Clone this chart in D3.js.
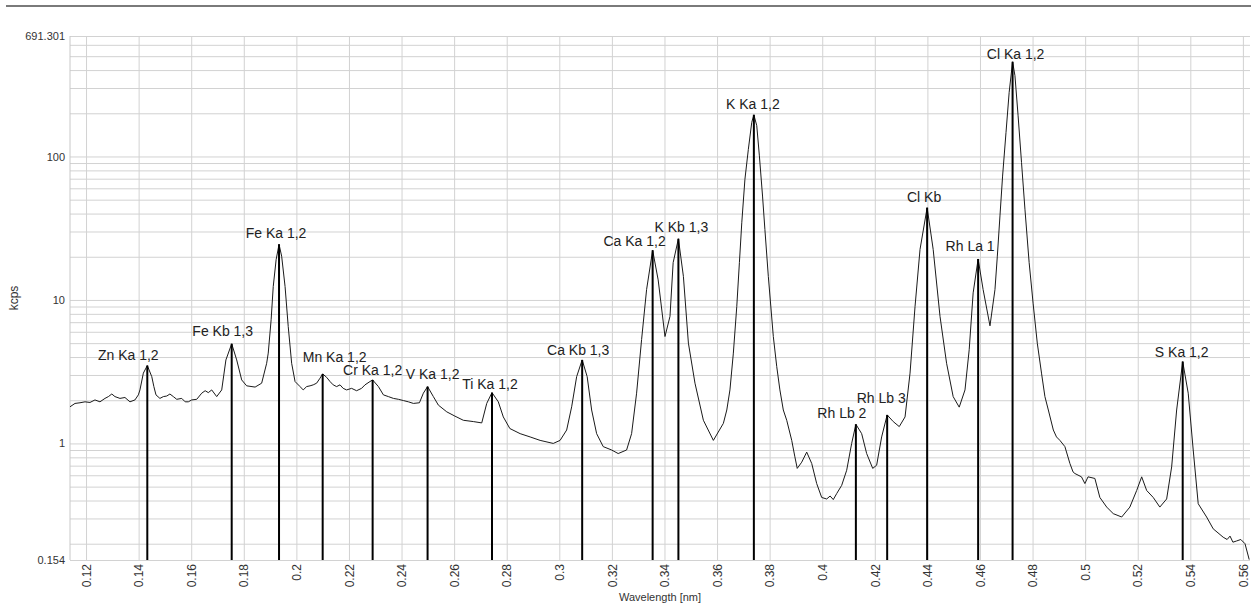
<!DOCTYPE html>
<html><head><meta charset="utf-8">
<script src="https://cdn.jsdelivr.net/npm/d3@7"></script>
<style>
html,body{margin:0;padding:0;background:#fff;}
svg{display:block;font-family:"Liberation Sans",Arial,sans-serif;}
</style></head><body>
<svg id="chart" width="1251" height="604"></svg>
<script>
// ---- data ----
const wavelength = [
0.1139,0.1158,0.1177,0.1196,0.1215,0.1234,0.1253,0.1272,0.1285,0.1298,
0.1310,0.1329,0.1348,0.1367,0.1386,0.1399,0.1405,0.1418,0.1433,0.1450,
0.1458,0.1466,0.1481,0.1494,0.1507,0.1519,0.1532,0.1545,0.1564,0.1577,
0.1589,0.1602,0.1621,0.1640,0.1653,0.1665,0.1678,0.1697,0.1716,0.1732,
0.1754,0.1773,0.1792,0.1811,0.1843,0.1868,0.1887,0.1893,0.1904,0.1912,
0.1923,0.1934,0.1944,0.1957,0.1969,0.1982,0.1995,0.2014,0.2026,0.2039,
0.2052,0.2064,0.2077,0.2090,0.2100,0.2115,0.2128,0.2140,0.2153,0.2166,
0.2178,0.2191,0.2210,0.2229,0.2248,0.2261,0.2280,0.2290,0.2312,0.2331,
0.2350,0.2369,0.2388,0.2407,0.2426,0.2445,0.2468,0.2483,0.2499,0.2521,
0.2540,0.2572,0.2603,0.2635,0.2673,0.2705,0.2724,0.2744,0.2768,0.2787,
0.2812,0.2851,0.2889,0.2927,0.2977,0.3003,0.3028,0.3047,0.3066,0.3087,
0.3106,0.3123,0.3142,0.3167,0.3199,0.3224,0.3256,0.3275,0.3294,0.3313,
0.3332,0.3355,0.3376,0.3402,0.3421,0.3433,0.3453,0.3472,0.3491,0.3516,
0.3548,0.3586,0.3624,0.3637,0.3649,0.3662,0.3675,0.3685,0.3694,0.3706,
0.3719,0.3732,0.3740,0.3751,0.3761,0.3773,0.3782,0.3795,0.3814,0.3827,
0.3839,0.3852,0.3865,0.3884,0.3896,0.3905,0.3922,0.3941,0.3960,0.3979,
0.3998,0.4017,0.4030,0.4042,0.4055,0.4074,0.4093,0.4112,0.4128,0.4150,
0.4169,0.4192,0.4207,0.4226,0.4247,0.4270,0.4293,0.4315,0.4334,0.4353,
0.4372,0.4399,0.4422,0.4448,0.4473,0.4498,0.4521,0.4543,0.4559,0.4574,
0.4593,0.4612,0.4638,0.4657,0.4666,0.4676,0.4686,0.4699,0.4711,0.4724,
0.4733,0.4745,0.4758,0.4771,0.4787,0.4802,0.4818,0.4834,0.4847,0.4860,
0.4879,0.4891,0.4904,0.4923,0.4942,0.4954,0.4961,0.4986,0.4999,0.5011,
0.5037,0.5056,0.5082,0.5107,0.5139,0.5170,0.5196,0.5215,0.5234,0.5259,
0.5284,0.5310,0.5329,0.5348,0.5371,0.5392,0.5411,0.5430,0.5462,0.5487,
0.5525,0.5540,0.5551,0.5562,0.5576,0.5592,0.5608,0.5624
];
const intensity = [
1.80,1.90,1.92,1.95,1.93,2.01,1.95,2.06,2.12,2.21,
2.12,2.06,2.09,1.95,2.01,2.18,2.36,3.09,3.49,2.92,
2.49,2.18,2.06,2.12,2.14,2.21,2.12,2.03,2.06,1.95,
1.95,2.01,2.03,2.24,2.33,2.26,2.36,2.12,2.36,3.82,
4.95,3.82,2.77,2.52,2.47,2.63,3.62,4.26,7.28,12.4,
19.1,24.4,20.2,12.4,6.53,3.62,2.70,2.49,2.36,2.49,
2.52,2.56,2.63,2.85,3.05,2.89,2.70,2.56,2.49,2.56,
2.42,2.36,2.42,2.33,2.42,2.56,2.70,2.77,2.49,2.18,
2.12,2.06,2.03,1.99,1.95,1.90,1.92,2.24,2.49,2.12,
1.85,1.66,1.55,1.45,1.42,1.39,1.90,2.26,1.95,1.53,
1.27,1.17,1.11,1.05,1.00,1.05,1.24,1.80,2.92,3.82,
2.92,1.71,1.17,0.95,0.90,0.85,0.90,1.17,2.24,5.3,
11.8,22.2,13.8,5.56,7.69,18.2,26.7,14.6,5.0,2.63,
1.45,1.05,1.38,1.71,2.36,4.26,9.0,18.2,34.5,69.4,
112,173,195,164,101,53,31,14.6,5.56,3.43,
2.36,1.71,1.45,1.05,0.806,0.67,0.74,0.87,0.725,0.525,
0.42,0.41,0.43,0.406,0.447,0.51,0.65,1.00,1.36,1.17,
0.85,0.67,0.705,1.11,1.58,1.42,1.31,1.53,3.09,9.0,
22.5,44,22.5,7.69,3.62,2.12,1.79,2.36,4.5,11.2,
19.3,11.8,6.6,11.8,20.2,38.5,73,147,280,457,
366,192,90.8,42.9,18.2,9.5,5.0,3.09,2.12,1.71,
1.24,1.11,1.05,0.95,0.725,0.633,0.617,0.585,0.525,0.585,
0.57,0.42,0.36,0.324,0.307,0.36,0.47,0.585,0.47,0.42,
0.36,0.41,0.686,1.71,3.72,2.24,0.90,0.38,0.307,0.254,
0.222,0.214,0.226,0.205,0.209,0.214,0.200,0.155
];
const peakNames = ["Zn Ka 1,2","Fe Kb 1,3","Fe Ka 1,2","Mn Ka 1,2","Cr Ka 1,2","V Ka 1,2","Ti Ka 1,2","Ca Kb 1,3","Ca Ka 1,2","K Kb 1,3","K Ka 1,2","Rh Lb 2","Rh Lb 3","Cl Kb","Rh La 1","Cl Ka 1,2","S Ka 1,2"];
const peakWavelength = [0.1433,0.1754,0.1934,0.2100,0.2290,0.2499,0.2744,0.3087,0.3355,0.3453,0.3740,0.4128,0.4247,0.4399,0.4593,0.4724,0.5371];
const peakIntensity = [3.49,4.95,24.4,3.05,2.77,2.49,2.26,3.82,22.2,26.7,195,1.36,1.58,44,19.3,457,3.72];
const xTickValues = [0.12,0.14,0.16,0.18,0.2,0.22,0.24,0.26,0.28,0.3,0.32,0.34,0.36,0.38,0.4,0.42,0.44,0.46,0.48,0.5,0.52,0.54,0.56];
const xTickLabels = ["0.12","0.14","0.16","0.18","0.2","0.22","0.24","0.26","0.28","0.3","0.32","0.34","0.36","0.38","0.4","0.42","0.44","0.46","0.48","0.5","0.52","0.54","0.56"];
const yTickValues = [0.154,1,10,100,691.301];
const yTickLabels = ["0.154","1","10","100","691.301"];
const xDomain = [0.1139,0.5627];
const yDomain = [0.154,691.301];
const xAxisTitle = "Wavelength [nm]";
const yAxisTitle = "kcps";

// ---- layout (label nudges in px, not data) ----
const labelDx = [-19,-9,-3,12,0,5,-2,-4,-18,3,-1,-14,-6,-3,-8,3,-1];
const labelDy = [-6,-8,-6,-12,-5,-8,-4,-5,-4,-7,-6,-6,-12,-6,-8,-3,-5];

const W = 1251, H = 604;
const M = {left:70, top:36, right:1250, bottom:560};
const svg = d3.select("#chart");

const x = d3.scaleLinear().domain(xDomain).range([M.left, M.right]);
const y = d3.scaleLog().domain(yDomain).range([M.bottom, M.top]);

// top separator line
svg.append("line").attr("x1",6).attr("x2",W).attr("y1",6).attr("y2",6)
  .attr("stroke","#7a7a7a").attr("stroke-width",2);

// horizontal grid (minor log lines)
const hGrid = [];
for (let k=-1;k<=2;k++) for (let m=1;m<=9;m++){const v=m*Math.pow(10,k); if(v>=yDomain[0]&&v<=yDomain[1]) hGrid.push(v);}
hGrid.push(yDomain[0], yDomain[1]);
svg.append("g").attr("transform",`translate(${M.left},0)`)
  .call(d3.axisLeft(y).tickValues(hGrid).tickSize(-(M.right-M.left)).tickFormat(""))
  .call(g=>g.select(".domain").remove())
  .call(g=>g.selectAll(".tick line").attr("stroke","#d2d2d2").attr("stroke-width",1));

// vertical grid
svg.append("g").attr("transform",`translate(0,${M.bottom})`)
  .call(d3.axisBottom(x).tickValues(xTickValues).tickSize(-(M.bottom-M.top)).tickFormat(""))
  .call(g=>g.select(".domain").remove())
  .call(g=>g.selectAll(".tick line").attr("stroke","#d2d2d2").attr("stroke-width",1));

// left border
svg.append("line").attr("x1",M.left).attr("x2",M.left).attr("y1",M.top).attr("y2",M.bottom)
  .attr("stroke","#c8c8c8").attr("stroke-width",1);

// y tick labels
svg.append("g").attr("transform",`translate(${M.left},0)`)
  .call(d3.axisLeft(y).tickValues(yTickValues).tickSize(0).tickPadding(5)
    .tickFormat((d,i)=>yTickLabels[i]))
  .call(g=>g.select(".domain").remove())
  .call(g=>g.selectAll("text").attr("font-size","11px").attr("fill","#333")
     .attr("font-family","'Liberation Sans',Arial,sans-serif"));

// x tick labels (rotated)
svg.append("g").attr("transform",`translate(0,${M.bottom})`)
  .call(d3.axisBottom(x).tickValues(xTickValues).tickSize(0).tickFormat((d,i)=>xTickLabels[i]))
  .call(g=>g.select(".domain").remove())
  .call(g=>g.selectAll("text")
     .attr("font-size","12px").attr("fill","#333")
     .attr("font-family","'Liberation Sans',Arial,sans-serif")
     .attr("text-anchor","end").attr("transform","rotate(-90)")
     .attr("x",-4).attr("y",0).attr("dy","0.35em"));

// axis titles
svg.append("text").attr("x",(M.left+M.right)/2).attr("y",601)
  .attr("text-anchor","middle").attr("font-size","11px").attr("fill","#333").text(xAxisTitle);
svg.append("text").attr("transform",`translate(18,298) rotate(-90)`)
  .attr("text-anchor","middle").attr("font-size","12px").attr("fill","#333").text(yAxisTitle);

// spectrum
const pts = wavelength.map((w,i)=>[w,intensity[i]]);
svg.append("path").datum(pts)
  .attr("d", d3.line().x(d=>x(d[0])).y(d=>y(d[1])))
  .attr("fill","none").attr("stroke","#1a1a1a").attr("stroke-width",1);

// peak markers
const peaks = peakNames.map((n,i)=>({n, w:peakWavelength[i], v:peakIntensity[i], dx:labelDx[i], dy:labelDy[i]}));
svg.append("g").selectAll("line").data(peaks).join("line")
  .attr("x1",d=>x(d.w)).attr("x2",d=>x(d.w))
  .attr("y1",y(yDomain[0])).attr("y2",d=>y(d.v))
  .attr("stroke","#000").attr("stroke-width",2);
svg.append("g").selectAll("text").data(peaks).join("text")
  .attr("x",d=>x(d.w)+d.dx).attr("y",d=>y(d.v)+d.dy)
  .attr("text-anchor","middle").attr("font-size","14px").attr("fill","#222")
  .text(d=>d.n);
</script>
</body></html>
